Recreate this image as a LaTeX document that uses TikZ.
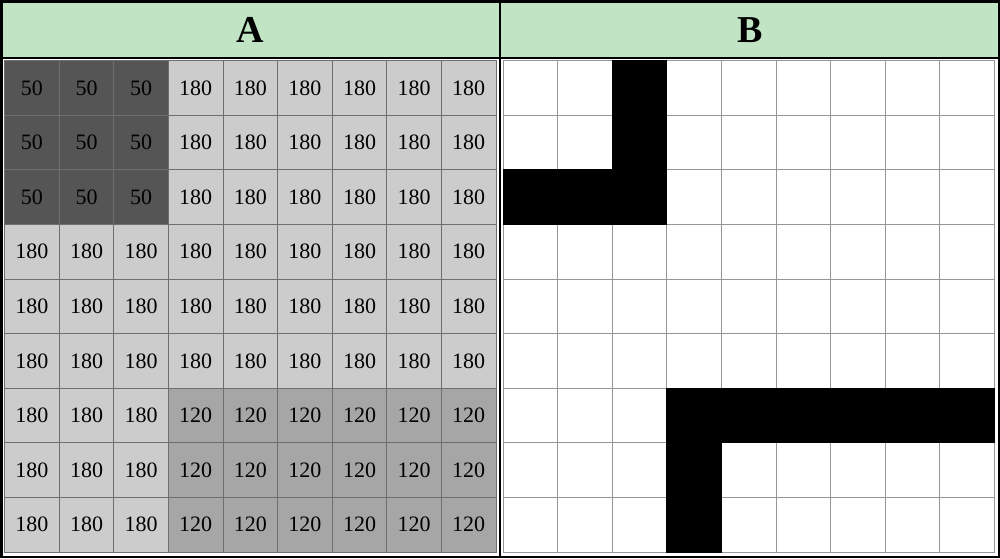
\documentclass[tikz,border=0pt]{standalone}
\usepackage{fontspec}
\setmainfont{Liberation Serif}
\definecolor{hdr}{RGB}{192,228,196}
\definecolor{cdark}{RGB}{85,85,85}
\definecolor{clight}{RGB}{204,204,204}
\definecolor{cmid}{RGB}{166,166,166}
\definecolor{lineA}{RGB}{110,110,110}
\definecolor{lineB}{RGB}{150,150,150}
\begin{document}
\begin{tikzpicture}[x=1pt,y=-1pt,
  cellA/.style={draw=lineA, line width=0.7pt, minimum size=54.6pt, inner sep=0pt, outer sep=0pt, anchor=north west, font=\fontsize{22}{22}\selectfont},
  cellB/.style={draw=lineB, line width=0.7pt, fill=white, minimum size=54.6pt, inner sep=0pt, outer sep=0pt, anchor=north west},
  blk/.style={draw=black, line width=0.7pt, fill=black, minimum size=54.6pt, inner sep=0pt, outer sep=0pt, anchor=north west},
  hdrtext/.style={font=\bfseries\fontsize{38}{38}\selectfont, inner sep=0pt}]
\useasboundingbox (0,0) rectangle (1000,558);
\fill[white] (0,0) rectangle (1000,558);
\fill[hdr] (0,0) rectangle (1000,57.5);
\node[hdrtext] (hA) at (250,30) {A};
\node[hdrtext] (hB) at (750,30) {B};
% panel A
\foreach \r in {0,...,8}{\foreach \c in {0,...,8}{
  \pgfmathtruncatemacro{\kk}{(\r<3 && \c<3) ? 1 : ((\r>5 && \c>2) ? 2 : 0)}
  \ifcase\kk \def\cv{180}\def\cf{clight}\or \def\cv{50}\def\cf{cdark}\or \def\cv{120}\def\cf{cmid}\fi
  \node[cellA, fill=\cf] (a\r\c) at ({4.6+54.6*\c},{60.6+54.6*\r}) {\cv};
}}
% panel B
\foreach \r in {0,...,8}{\foreach \c in {0,...,8}{
  \node[cellB] (b\r\c) at ({502.9+54.6*\c},{60.6+54.6*\r}) {};
}}
\foreach \r/\c in {0/2,1/2,2/0,2/1,2/2,6/3,6/4,6/5,6/6,6/7,6/8,7/3,8/3}{
  \node[blk] (k\r\c) at ({502.9+54.6*\c},{60.6+54.6*\r}) {};
}
% frames
\draw[line width=2pt] (0,57.5) -- (1000,57.5);
\draw[line width=2.5pt] (500,0) -- (500,558);
\draw[line width=2.5pt] (1.25,1.25) rectangle (998.75,556.75);
\end{tikzpicture}
\end{document}
